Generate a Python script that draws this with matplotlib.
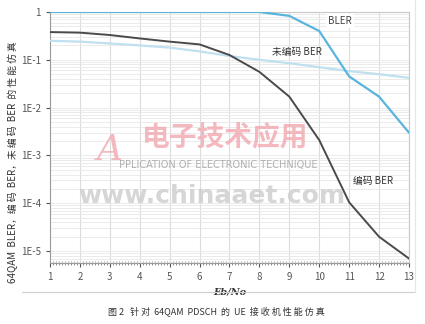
import matplotlib
matplotlib.use('Agg')
import matplotlib.pyplot as plt
from matplotlib.ticker import LogLocator, FixedLocator, MultipleLocator, NullFormatter
from matplotlib.lines import Line2D

plt.rcParams['font.family'] = ['Noto Sans CJK SC', 'DejaVu Sans']

# 数据
ebno = [1, 2, 3, 4, 5, 6, 7, 8, 9, 10, 11, 12, 13]
bler = [1.0, 1.0, 1.0, 1.0, 1.0, 1.0, 1.0, 1.0, 0.83, 0.4, 0.045, 0.017, 0.003]
ber_uncoded = [0.25, 0.24, 0.22, 0.20, 0.18, 0.15, 0.12, 0.10, 0.085, 0.07, 0.058, 0.05, 0.042]
ber_coded = [0.38, 0.37, 0.33, 0.28, 0.24, 0.21, 0.126, 0.056, 0.017, 0.0021, 1.05e-4, 2e-5, 7e-6]
ytick_vals = [1, 1e-1, 1e-2, 1e-3, 1e-4, 1e-5]
ytick_labels = ['1', '1E-1', '1E-2', '1E-3', '1E-4', '1E-5']

fig = plt.figure(figsize=(4.25, 3.24), dpi=100)
ax = fig.add_axes([0.1176, 0.188, 0.8447, 0.775])

ax.plot(ebno, ber_uncoded, color='#bfe0f0', lw=1.6, zorder=3)
ax.plot(ebno, bler, color='#5ab4dc', lw=1.6, zorder=4)
ax.plot(ebno, ber_coded, color='#4a4a4a', lw=1.4, zorder=5)

ax.set_yscale('log')
ax.set_xlim(1, 13)
ax.set_ylim(10 ** -5.25, 1)
ax.xaxis.set_major_locator(FixedLocator(ebno))
ax.xaxis.set_minor_locator(MultipleLocator(0.1))
ax.yaxis.set_major_locator(FixedLocator(ytick_vals))
ax.set_yticklabels(ytick_labels)
ax.yaxis.set_minor_locator(LogLocator(base=10, subs=[2, 3, 4, 5, 6, 7, 8, 9], numticks=20))
ax.yaxis.set_minor_formatter(NullFormatter())

ax.grid(True, which='major', axis='x', color='#dcdcdc', lw=0.8)
ax.grid(True, which='both', axis='y', color='#e8e8e8', lw=0.6)
ax.tick_params(axis='both', which='major', labelsize=7, colors='#555555', length=3)
ax.tick_params(axis='x', which='minor', direction='inout', length=2.5, color='#777777')
ax.tick_params(axis='y', which='minor', length=0)
for s in ['top', 'right']:
    ax.spines[s].set_color('#c8c8c8')
for s in ['left', 'bottom']:
    ax.spines[s].set_color('#9a9a9a')

ax.set_xlabel('Eb/No', fontsize=7, fontstyle='italic', fontweight='bold', color='#333333',
              family='DejaVu Serif', labelpad=4)
fig.text(0.03, 0.5, '64QAM  BLER，编 码  BER，未 编 码  BER  的 性 能 仿 真', rotation=90,
         fontsize=7, color='#333333', ha='center', va='center')

ax.text(340 / 425, 1 - 21 / 324, 'BLER', transform=fig.transFigure, fontsize=7, color='#444444',
        ha='center', va='center', bbox=dict(facecolor='white', edgecolor='none', pad=1.5))
ax.text(297 / 425, 1 - 52 / 324, '未编码 BER', transform=fig.transFigure, fontsize=7,
        color='#333333', ha='center', va='center')
ax.text(373 / 425, 1 - 181 / 324, '编码 BER', transform=fig.transFigure, fontsize=7,
        color='#333333', ha='center', va='center')

# 水印
fig.text(225 / 425, 1 - 138 / 324, '电子技术应用', fontsize=20, color='#f2a8b0', alpha=0.8,
         ha='center', va='center', fontweight='bold')
fig.text(110 / 425, 1 - 150 / 324, 'A', fontsize=26, color='#f2a8b0', alpha=0.8,
         fontstyle='italic', family='DejaVu Serif', ha='center', va='center')
fig.text(218 / 425, 1 - 165 / 324, 'PPLICATION OF ELECTRONIC TECHNIQUE', fontsize=7,
         color='#b0b0b0', ha='center', va='center', family='DejaVu Sans')
fig.text(212 / 425, 1 - 196 / 324, 'www.chinaaet.com', fontsize=18, color='#cfcfcf',
         ha='center', va='center', fontweight='bold', family='DejaVu Sans', alpha=0.85)

# 外框
fig.add_artist(Line2D([22 / 425, 415 / 425], [1 - 292 / 324] * 2, color='#d0d0d0', lw=0.8))
fig.add_artist(Line2D([415 / 425] * 2, [1 - 292 / 324, 1.0], color='#e6e6e6', lw=0.8))

fig.text(0.508, 1 - 311 / 324, '图 2   针 对  64QAM  PDSCH  的  UE  接 收 机 性 能 仿 真', fontsize=6.5,
         color='#333333', ha='center', va='center')

plt.savefig('out.png', dpi=100)
